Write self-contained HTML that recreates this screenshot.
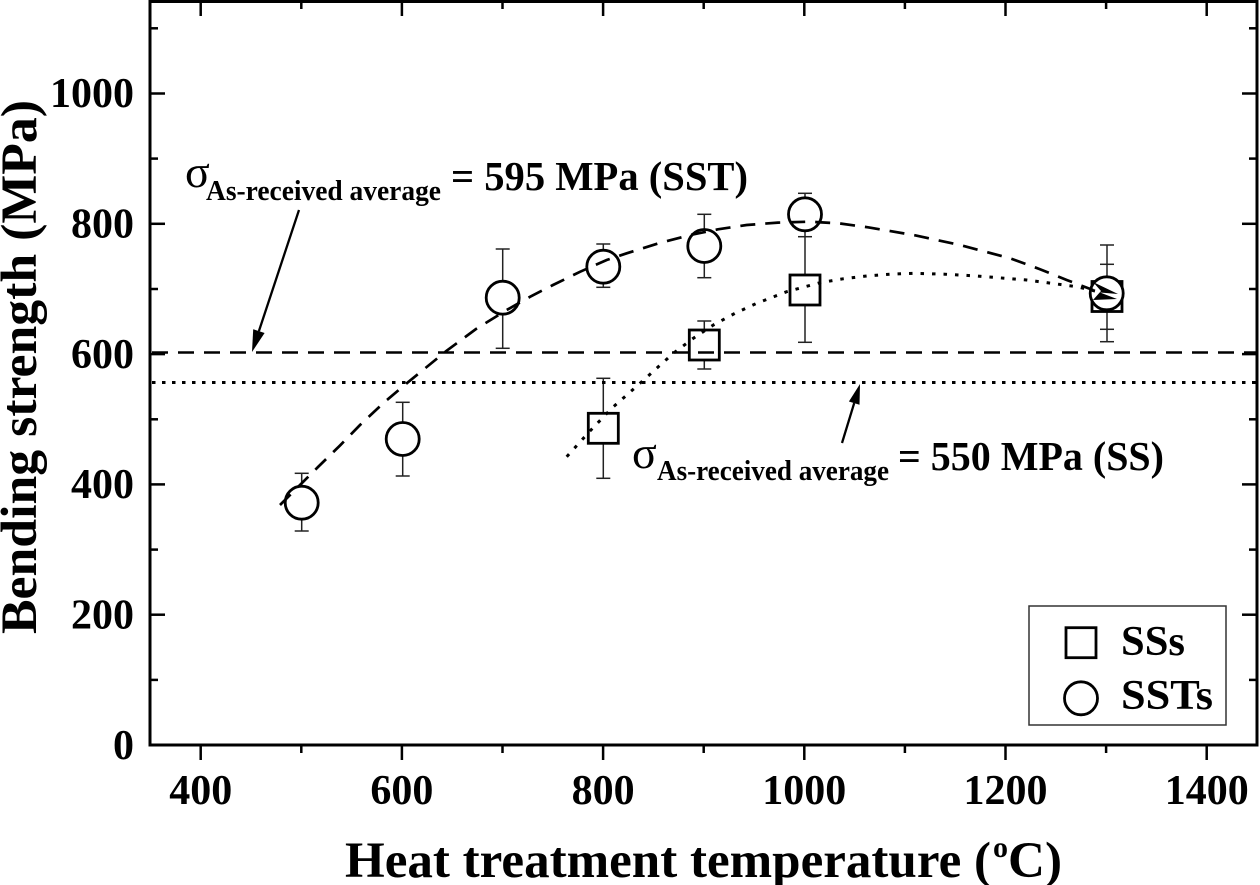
<!DOCTYPE html>
<html>
<head>
<meta charset="utf-8">
<style>
  html, body { margin: 0; padding: 0; background: #fff; }
  svg { display: block; }
  text { font-family: "Liberation Serif", "DejaVu Serif", serif; font-weight: bold; fill: #000; }
  text.sig { font-weight: normal; }
</style>
</head>
<body>
<svg width="1260" height="885" viewBox="0 0 1260 885" xmlns="http://www.w3.org/2000/svg">
  <rect x="0" y="0" width="1260" height="885" fill="#fff"/>

  <!-- Axes frame -->
  <g stroke="#000" stroke-width="3" fill="none">
    <line x1="150" y1="1.5" x2="1257" y2="1.5"/>
    <line x1="150" y1="745" x2="1258.5" y2="745"/>
    <line x1="150" y1="0" x2="150" y2="746.5"/>
    <line x1="1257" y1="0" x2="1257" y2="746.5"/>
  </g>

  <!-- X ticks -->
  <g stroke="#000" stroke-width="2.5">
    <line x1="200.7" y1="745" x2="200.7" y2="760"/>
    <line x1="401.9" y1="745" x2="401.9" y2="760"/>
    <line x1="603.1" y1="745" x2="603.1" y2="760"/>
    <line x1="804.3" y1="745" x2="804.3" y2="760"/>
    <line x1="1005.5" y1="745" x2="1005.5" y2="760"/>
    <line x1="1206.7" y1="745" x2="1206.7" y2="760"/>
    <line x1="301.3" y1="745" x2="301.3" y2="753"/>
    <line x1="502.5" y1="745" x2="502.5" y2="753"/>
    <line x1="703.7" y1="745" x2="703.7" y2="753"/>
    <line x1="904.9" y1="745" x2="904.9" y2="753"/>
    <line x1="1106.1" y1="745" x2="1106.1" y2="753"/>
    <line x1="200.7" y1="1" x2="200.7" y2="16"/>
    <line x1="401.9" y1="1" x2="401.9" y2="16"/>
    <line x1="603.1" y1="1" x2="603.1" y2="16"/>
    <line x1="804.3" y1="1" x2="804.3" y2="16"/>
    <line x1="1005.5" y1="1" x2="1005.5" y2="16"/>
    <line x1="1206.7" y1="1" x2="1206.7" y2="16"/>
    <line x1="301.3" y1="1" x2="301.3" y2="9"/>
    <line x1="502.5" y1="1" x2="502.5" y2="9"/>
    <line x1="703.7" y1="1" x2="703.7" y2="9"/>
    <line x1="904.9" y1="1" x2="904.9" y2="9"/>
    <line x1="1106.1" y1="1" x2="1106.1" y2="9"/>
  </g>

  <!-- Y ticks -->
  <g stroke="#000" stroke-width="2.5">
    <line x1="150" y1="745" x2="165" y2="745"/>
    <line x1="150" y1="614.7" x2="165" y2="614.7"/>
    <line x1="150" y1="484.4" x2="165" y2="484.4"/>
    <line x1="150" y1="354.1" x2="165" y2="354.1"/>
    <line x1="150" y1="223.8" x2="165" y2="223.8"/>
    <line x1="150" y1="93.5" x2="165" y2="93.5"/>
    <line x1="150" y1="679.9" x2="158" y2="679.9"/>
    <line x1="150" y1="549.6" x2="158" y2="549.6"/>
    <line x1="150" y1="419.3" x2="158" y2="419.3"/>
    <line x1="150" y1="289" x2="158" y2="289"/>
    <line x1="150" y1="158.6" x2="158" y2="158.6"/>
    <line x1="150" y1="28.3" x2="158" y2="28.3"/>

    <line x1="1257" y1="745" x2="1242" y2="745"/>
    <line x1="1257" y1="614.7" x2="1242" y2="614.7"/>
    <line x1="1257" y1="484.4" x2="1242" y2="484.4"/>
    <line x1="1257" y1="354.1" x2="1242" y2="354.1"/>
    <line x1="1257" y1="223.8" x2="1242" y2="223.8"/>
    <line x1="1257" y1="93.5" x2="1242" y2="93.5"/>
    <line x1="1257" y1="679.9" x2="1249" y2="679.9"/>
    <line x1="1257" y1="549.6" x2="1249" y2="549.6"/>
    <line x1="1257" y1="419.3" x2="1249" y2="419.3"/>
    <line x1="1257" y1="289" x2="1249" y2="289"/>
    <line x1="1257" y1="158.6" x2="1249" y2="158.6"/>
    <line x1="1257" y1="28.3" x2="1249" y2="28.3"/>
  </g>

  <!-- Tick labels -->
  <g font-size="42" text-anchor="end">
    <text x="134" y="759">0</text>
    <text x="134" y="628.5">200</text>
    <text x="134" y="498">400</text>
    <text x="134" y="368">600</text>
    <text x="134" y="237.5">800</text>
    <text x="134" y="107">1000</text>
  </g>
  <g font-size="42" text-anchor="middle">
    <text x="200.7" y="804">400</text>
    <text x="401.9" y="804">600</text>
    <text x="603.1" y="804">800</text>
    <text x="804.3" y="804">1000</text>
    <text x="1005.5" y="804">1200</text>
    <text x="1206.7" y="804">1400</text>
  </g>

  <!-- Axis titles -->
  <text transform="translate(36,367) rotate(-90)" font-size="51" text-anchor="middle" textLength="534" lengthAdjust="spacingAndGlyphs">Bending strength (MPa)</text>
  <text x="345" y="877" font-size="51" textLength="646" lengthAdjust="spacingAndGlyphs">Heat treatment temperature (</text>
  <text x="993" y="857" font-size="30">o</text>
  <text x="1008" y="877" font-size="51" textLength="54" lengthAdjust="spacingAndGlyphs">C)</text>

  <!-- Error bars -->
  <g stroke="#222" stroke-width="1.5" fill="none">
    <line x1="301.7" y1="473.3" x2="301.7" y2="531"/>
    <line x1="294.7" y1="473.3" x2="308.7" y2="473.3"/>
    <line x1="294.7" y1="531" x2="308.7" y2="531"/>
    <line x1="402.7" y1="402.3" x2="402.7" y2="476"/>
    <line x1="395.7" y1="402.3" x2="409.7" y2="402.3"/>
    <line x1="395.7" y1="476" x2="409.7" y2="476"/>
    <line x1="502.7" y1="249" x2="502.7" y2="348.3"/>
    <line x1="495.7" y1="249" x2="509.7" y2="249"/>
    <line x1="495.7" y1="348.3" x2="509.7" y2="348.3"/>
    <line x1="603.3" y1="244" x2="603.3" y2="287.3"/>
    <line x1="596.3" y1="244" x2="610.3" y2="244"/>
    <line x1="596.3" y1="287.3" x2="610.3" y2="287.3"/>
    <line x1="603.3" y1="378.3" x2="603.3" y2="478.3"/>
    <line x1="596.3" y1="378.3" x2="610.3" y2="378.3"/>
    <line x1="596.3" y1="478.3" x2="610.3" y2="478.3"/>
    <line x1="704.3" y1="214.3" x2="704.3" y2="277.7"/>
    <line x1="697.3" y1="214.3" x2="711.3" y2="214.3"/>
    <line x1="697.3" y1="277.7" x2="711.3" y2="277.7"/>
    <line x1="704.3" y1="321" x2="704.3" y2="369"/>
    <line x1="697.3" y1="321" x2="711.3" y2="321"/>
    <line x1="697.3" y1="369" x2="711.3" y2="369"/>
    <line x1="805" y1="193.3" x2="805" y2="342.3"/>
    <line x1="798" y1="193.3" x2="812" y2="193.3"/>
    <line x1="798" y1="236.7" x2="812" y2="236.7"/>
    <line x1="798" y1="342.3" x2="812" y2="342.3"/>
    <line x1="1107" y1="245" x2="1107" y2="341.7"/>
    <line x1="1100" y1="245" x2="1114" y2="245"/>
    <line x1="1100" y1="264.3" x2="1114" y2="264.3"/>
    <line x1="1100" y1="329.3" x2="1114" y2="329.3"/>
    <line x1="1100" y1="341.7" x2="1114" y2="341.7"/>
  </g>

  <!-- Square markers -->
  <g stroke="#000" stroke-width="2.8" fill="#fff">
    <rect x="588.3" y="413.3" width="30" height="30"/>
    <rect x="689.3" y="330" width="30" height="30"/>
    <rect x="790" y="275" width="30" height="30"/>
    <rect x="1092" y="281.5" width="30" height="30"/>
  </g>

  <!-- Circle markers -->
  <g stroke="#000" stroke-width="2.8" fill="#fff">
    <circle cx="301.7" cy="502.7" r="16.5"/>
    <circle cx="402.7" cy="439" r="16.5"/>
    <circle cx="502.7" cy="297.7" r="16.5"/>
    <circle cx="603.3" cy="266.7" r="16.5"/>
    <circle cx="704.3" cy="246" r="16.5"/>
    <circle cx="805" cy="214.3" r="16.5"/>
    <circle cx="1106.7" cy="293.3" r="16.5"/>
  </g>

  <!-- Horizontal reference lines -->
  <line x1="152" y1="352.5" x2="1256" y2="352.5" stroke="#000" stroke-width="2.6" stroke-dasharray="16 10"/>
  <line x1="152" y1="382.5" x2="1256" y2="382.5" stroke="#000" stroke-width="3" stroke-dasharray="3.5 6.5"/>

  <!-- Fit curves -->
  <polyline fill="none" stroke="#000" stroke-width="2.7" stroke-dasharray="15 10"
    points="280,505 299,486 318,467 340,445.5 360,425 384,402.5 406.7,383.3 446.7,350.7 476,329 506.7,310 530,296.8 553,285 580,271.8 606.7,260 626.7,253.3 658,243.5 690,235 718,229.3 746.7,225 778,222.6 810,221.7 840,223.5 868,227.3 915,235.3 960,245 1010,258.3 1040,269.2 1066.7,280 1093,290"/>
  <polyline fill="none" stroke="#000" stroke-width="3" stroke-dasharray="3.5 8"
    points="566.7,456.7 590,431 611.7,408.3 640,383.3 673.3,353.3 693,338.5 713.3,325 735,313.3 756.7,303.3 786.7,291.7 820,282.7 843,278.8 866.7,276 890,274.2 913.3,273.3 945,274.2 976.7,276 1026.7,280 1076.7,286.7 1095,291"/>

  <!-- Arrowhead at 1300 -->
  <polygon points="1093,282 1118,294 1100,292.5 1117,299 1093,300 1101,291" fill="#000"/>

  <!-- Annotation arrows -->
  <line x1="299" y1="210" x2="258.9" y2="331.1" stroke="#000" stroke-width="2.3"/>
  <polygon points="252,352 264.6,333 253.2,329.2" fill="#000"/>
  <line x1="842" y1="443" x2="854.2" y2="403.1" stroke="#000" stroke-width="2.3"/>
  <polygon points="860,384 859.5,404.7 848.9,401.5" fill="#000"/>

  <!-- Annotation 1 -->
  <text class="sig" x="185" y="187" font-size="46">σ</text>
  <text x="206" y="200" font-size="28" textLength="235" lengthAdjust="spacingAndGlyphs">As-received average</text>
  <text x="451" y="190" font-size="41" textLength="297" lengthAdjust="spacingAndGlyphs">= 595 MPa (SST)</text>

  <!-- Annotation 2 -->
  <text class="sig" x="632" y="468" font-size="46">σ</text>
  <text x="657" y="480" font-size="28" textLength="232" lengthAdjust="spacingAndGlyphs">As-received average</text>
  <text x="898" y="470" font-size="41" textLength="266" lengthAdjust="spacingAndGlyphs">= 550 MPa (SS)</text>

  <!-- Legend -->
  <rect x="1029" y="606" width="197" height="119" fill="#fff" stroke="#333" stroke-width="1.5"/>
  <rect x="1066" y="627.7" width="30" height="30" fill="#fff" stroke="#000" stroke-width="2.8"/>
  <circle cx="1081" cy="698.3" r="16.5" fill="#fff" stroke="#000" stroke-width="2.8"/>
  <text x="1121" y="655" font-size="42" textLength="64" lengthAdjust="spacingAndGlyphs">SSs</text>
  <text x="1121" y="709" font-size="42" textLength="92" lengthAdjust="spacingAndGlyphs">SSTs</text>
</svg>
</body>
</html>
